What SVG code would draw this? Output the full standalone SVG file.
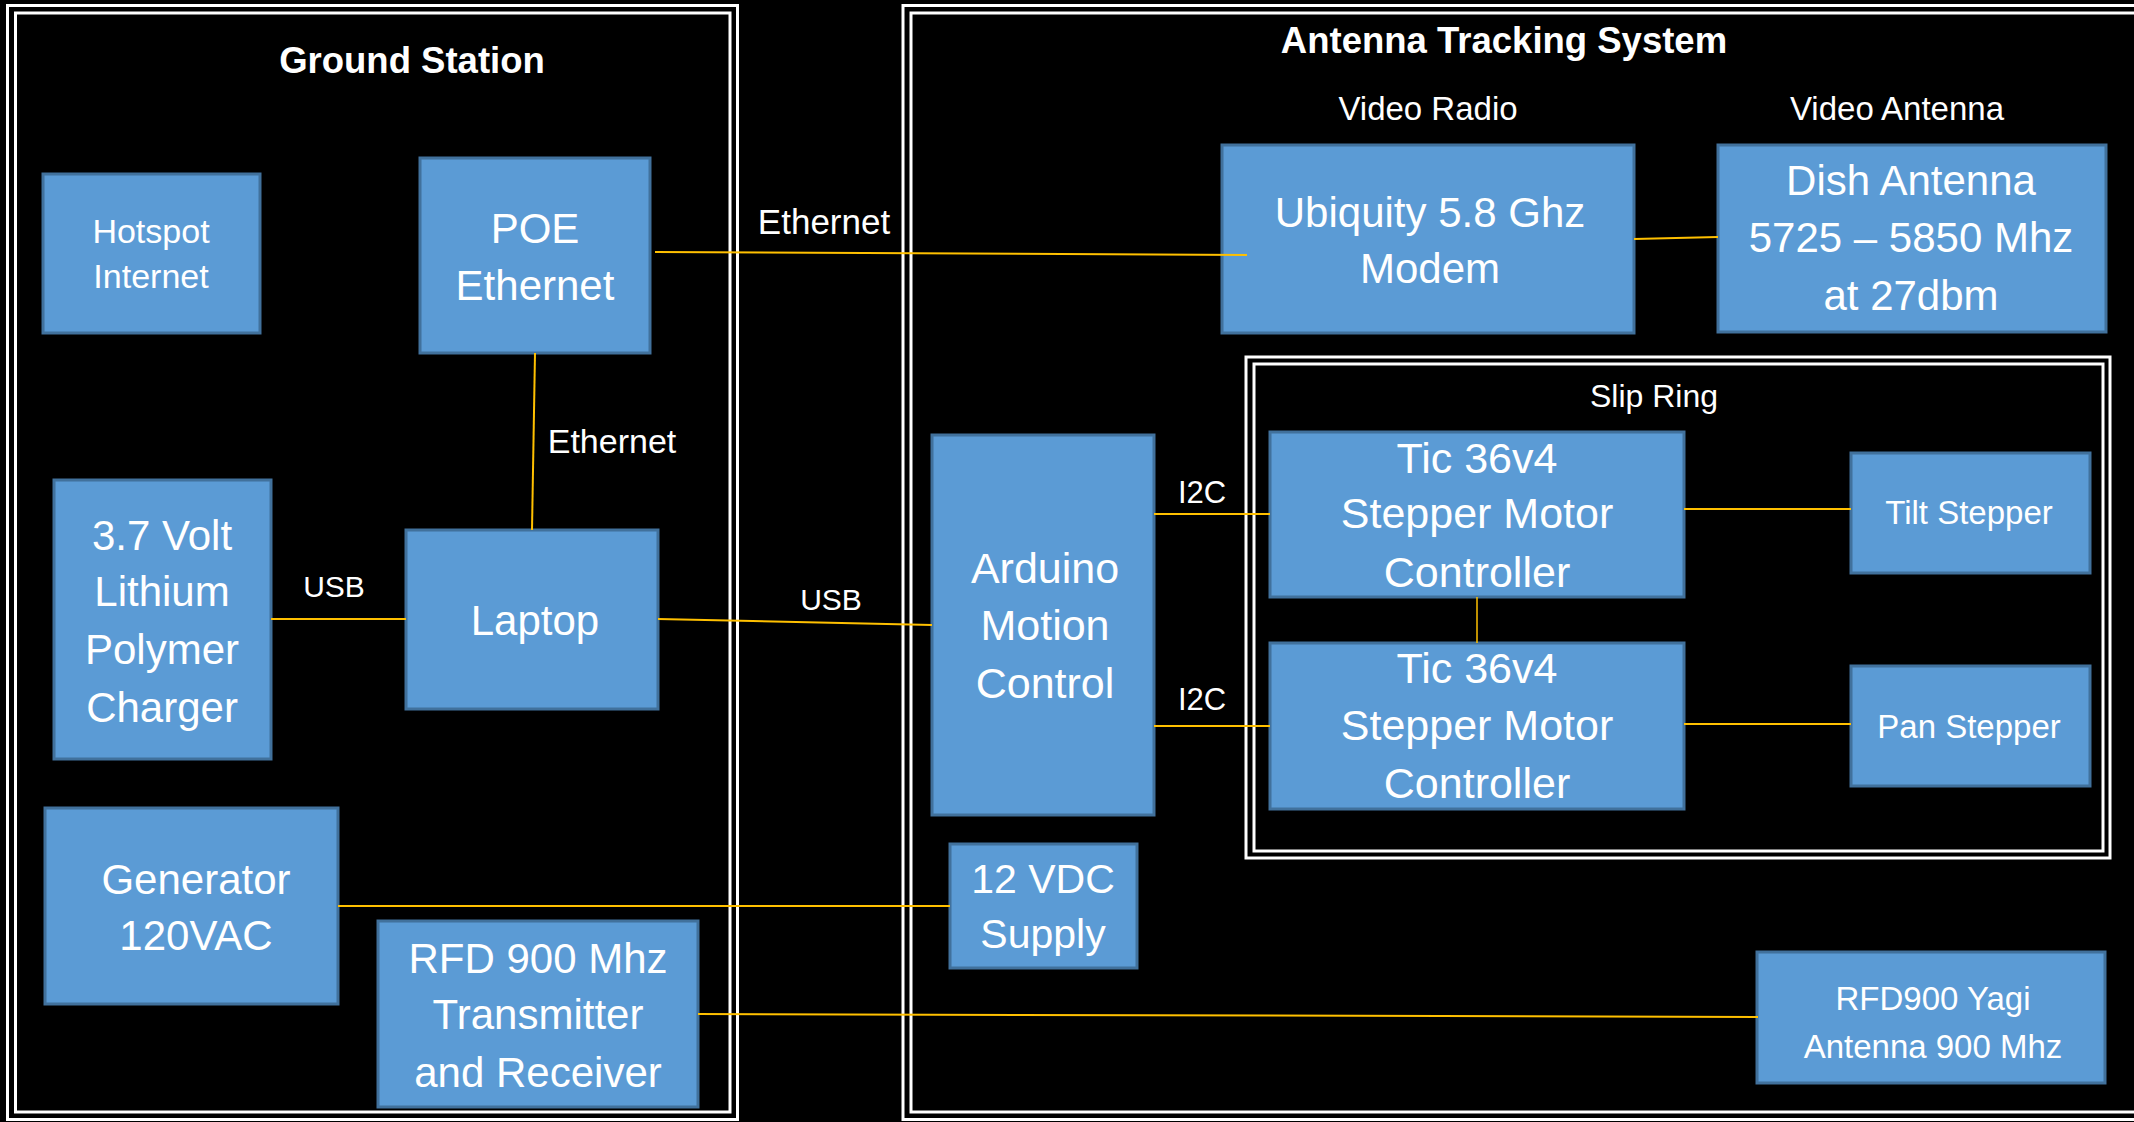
<svg xmlns="http://www.w3.org/2000/svg" width="2134" height="1122" viewBox="0 0 2134 1122">
<style>
.bg{fill:#000}
.frame{fill:none;stroke:#fff;stroke-width:3}
.box{fill:#5B9BD5;stroke:#41719C;stroke-width:3}
text{fill:#fff;font-family:"Liberation Sans",Arial,sans-serif;text-anchor:middle}
.title{font-weight:bold;font-size:36.5px}
.t42{font-size:42px}
.t43{font-size:43px}
.t41{font-size:41px}
.t34{font-size:34px}
.t33{font-size:33px}
.t32{font-size:32px}
.con{stroke:#FFC000;stroke-width:2;fill:none}
</style>
<rect class="bg" x="0" y="0" width="2134" height="1122"/>

<g id="ground-station">
<rect class="frame" x="7.5" y="5.5" width="730" height="1114"/>
<rect class="frame" x="15.5" y="13" width="714.5" height="1099"/>
<text class="title" x="412" y="73">Ground Station</text>
</g>

<g id="antenna-tracking-system">
<rect class="frame" x="903" y="5.5" width="1250" height="1114"/>
<rect class="frame" x="911" y="13" width="1240" height="1099"/>
<text class="title" x="1504" y="53">Antenna Tracking System</text>
<text class="t33" x="1428" y="120">Video Radio</text>
<text class="t33" x="1897" y="120">Video Antenna</text>
</g>

<g id="slip-ring">
<rect class="frame" x="1246" y="357" width="864" height="501"/>
<rect class="frame" x="1254" y="364" width="849" height="487"/>
<text class="t32" x="1654" y="407">Slip Ring</text>
</g>

<g id="hotspot">
<rect class="box" x="43" y="174" width="217" height="159"/>
<text class="t34" x="151" y="243">Hotspot</text>
<text class="t34" x="151" y="288">Internet</text>
</g>

<g id="poe">
<rect class="box" x="420" y="158" width="230" height="195"/>
<text class="t42" x="535" y="243">POE</text>
<text class="t42" x="535" y="300">Ethernet</text>
</g>

<g id="laptop">
<rect class="box" x="406" y="530" width="252" height="179"/>
<text class="t42" x="535" y="635">Laptop</text>
</g>

<g id="charger">
<rect class="box" x="54" y="480" width="217" height="279"/>
<text class="t42" x="162" y="550">3.7 Volt</text>
<text class="t42" x="162" y="606">Lithium</text>
<text class="t42" x="162" y="664">Polymer</text>
<text class="t42" x="162" y="722">Charger</text>
</g>

<g id="generator">
<rect class="box" x="45" y="808" width="293" height="196"/>
<text class="t42" x="196" y="894">Generator</text>
<text class="t42" x="196" y="950">120VAC</text>
</g>

<g id="rfd-transceiver">
<rect class="box" x="378" y="921" width="320" height="186"/>
<text class="t42" x="538" y="973">RFD 900 Mhz</text>
<text class="t42" x="538" y="1029">Transmitter</text>
<text class="t42" x="538" y="1087">and Receiver</text>
</g>

<g id="ubiquity">
<rect class="box" x="1222" y="145" width="412" height="188"/>
<text class="t42" x="1430" y="227">Ubiquity 5.8 Ghz</text>
<text class="t42" x="1430" y="283">Modem</text>
</g>

<g id="dish">
<rect class="box" x="1718" y="145" width="388" height="187"/>
<text class="t42" x="1911" y="195">Dish Antenna</text>
<text class="t42" x="1911" y="252">5725 – 5850 Mhz</text>
<text class="t42" x="1911" y="310">at 27dbm</text>
</g>

<g id="arduino">
<rect class="box" x="932" y="435" width="222" height="380"/>
<text class="t43" x="1045" y="583">Arduino</text>
<text class="t43" x="1045" y="640">Motion</text>
<text class="t43" x="1045" y="698">Control</text>
</g>

<g id="tic1">
<rect class="box" x="1270" y="432" width="414" height="165"/>
<text class="t43" x="1477" y="473">Tic 36v4</text>
<text class="t43" x="1477" y="528">Stepper Motor</text>
<text class="t43" x="1477" y="587">Controller</text>
</g>

<g id="tic2">
<rect class="box" x="1270" y="643" width="414" height="166"/>
<text class="t43" x="1477" y="683">Tic 36v4</text>
<text class="t43" x="1477" y="740">Stepper Motor</text>
<text class="t43" x="1477" y="798">Controller</text>
</g>

<g id="tilt">
<rect class="box" x="1851" y="453" width="239" height="120"/>
<text class="t33" x="1969" y="524">Tilt Stepper</text>
</g>

<g id="pan">
<rect class="box" x="1851" y="666" width="239" height="120"/>
<text class="t33" x="1969" y="738">Pan Stepper</text>
</g>

<g id="vdc">
<rect class="box" x="950" y="844" width="187" height="124"/>
<text class="t41" x="1043" y="893">12 VDC</text>
<text class="t41" x="1043" y="948">Supply</text>
</g>

<g id="yagi">
<rect class="box" x="1757" y="952" width="348" height="131"/>
<text class="t33" x="1933" y="1010">RFD900 Yagi</text>
<text class="t33" x="1933" y="1058">Antenna 900 Mhz</text>
</g>

<g id="connectors">
<line class="con" x1="655" y1="252" x2="1247" y2="255"/>
<line class="con" x1="535" y1="353" x2="532" y2="530"/>
<line class="con" x1="271" y1="619" x2="406" y2="619"/>
<line class="con" x1="658" y1="619" x2="932" y2="625"/>
<line class="con" x1="1634" y1="239" x2="1718" y2="237"/>
<line class="con" x1="1154" y1="514" x2="1270" y2="514"/>
<line class="con" x1="1154" y1="726" x2="1270" y2="726"/>
<line class="con" x1="1477" y1="597" x2="1477" y2="643" style="stroke-width:1.5"/>
<line class="con" x1="1684" y1="509" x2="1851" y2="509"/>
<line class="con" x1="1684" y1="724" x2="1851" y2="724"/>
<line class="con" x1="338" y1="906" x2="950" y2="906"/>
<line class="con" x1="698" y1="1014" x2="1758" y2="1017"/>
<text style="font-size:35px" x="824" y="234">Ethernet</text>
<text class="t34" x="612" y="453">Ethernet</text>
<text style="font-size:30px" x="334" y="597">USB</text>
<text style="font-size:30px" x="831" y="610">USB</text>
<text style="font-size:31px" x="1202" y="503">I2C</text>
<text style="font-size:31px" x="1202" y="710">I2C</text>
</g>
</svg>
